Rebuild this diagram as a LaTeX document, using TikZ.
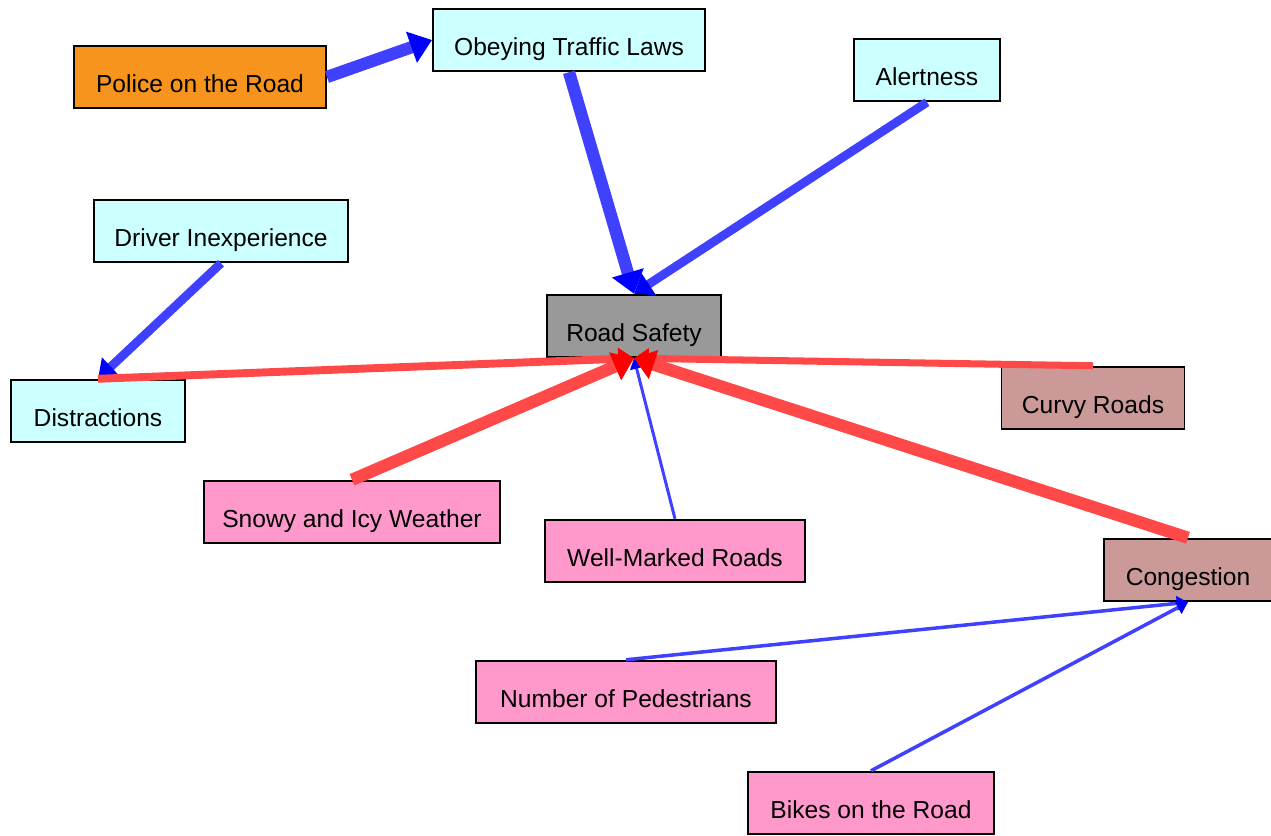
\documentclass[tikz,border=0pt]{standalone}
\usepackage{fontspec}
\setmainfont{Liberation Sans}
\usepackage{xcolor}
\usepackage{tikz}
\usetikzlibrary{arrows.meta,positioning}

\definecolor{lineblue}{RGB}{64,64,255}
\definecolor{linered}{RGB}{255,72,72}
\definecolor{cyanfill}{RGB}{204,255,255}
\definecolor{orangefill}{RGB}{247,148,30}
\definecolor{grayfill}{RGB}{153,153,153}
\definecolor{brownfill}{RGB}{204,153,153}
\definecolor{pinkfill}{RGB}{255,153,204}

\begin{document}
\begin{tikzpicture}[
    box/.style={rectangle, draw=black, line width=1.1pt, minimum height=1.25cm, inner sep=2pt, text height=18pt, text depth=0pt, font=\fontsize{14}{16}\selectfont},
    factor/.style={box, fill=cyanfill},
    police/.style={box, fill=orangefill},
    target/.style={box, fill=grayfill},
    hazard/.style={box, fill=brownfill},
    cond/.style={box, fill=pinkfill},
    pos/.style={draw=lineblue, line width=#1, -{Triangle[color=blue, length=4pt 1.2, width=4pt 2]}},
    neg/.style={draw=linered, line width=#1, -{Triangle[color=red, length=4pt 1.1, width=4pt 1.8]}}
]
\useasboundingbox (0,0) rectangle (25.42,16.70);

% Central node
\node[target, minimum width=3.48cm] (safety) at (12.68, 10.18) {Road Safety};

% Upper factors
\node[police, minimum width=5.04cm] (police) at (4.00, 15.16) {Police on the Road};
\node[factor, minimum width=5.44cm] (laws) at (11.38, 15.90) {Obeying Traffic Laws};
\node[factor, minimum width=2.92cm] (alert) at (18.54, 15.30) {Alertness};
\node[factor, minimum width=5.08cm] (driver) at (4.42, 12.08) {Driver Inexperience};
\node[factor, minimum width=3.48cm] (distract) at (1.96, 8.48) {Distractions};

% Road conditions
\node[hazard, minimum width=3.66cm] (curvy) at (21.86, 8.74) {Curvy Roads};
\node[cond, minimum width=5.92cm] (snowy) at (7.04, 6.46) {Snowy and Icy Weather};
\node[cond, minimum width=5.20cm] (marked) at (13.50, 5.68) {Well-Marked Roads};
\node[hazard, minimum width=3.36cm] (congest) at (23.76, 5.30) {Congestion};
\node[cond, minimum width=6.00cm] (peds) at (12.52, 2.86) {Number of Pedestrians};
\node[cond, minimum width=4.92cm] (bikes) at (17.42, 0.64) {Bikes on the Road};

% Positive links
\draw[pos=7pt] (police.east) -- (laws.west);
\draw[pos=7pt] (laws.south) -- (safety.north);
\draw[pos=5pt] (alert.south) -- (safety.north);
\draw[pos=5pt] (driver.south) -- (distract.north);
\draw[pos=1.7pt] (marked.north) -- (safety.south);
\draw[pos=2pt] (peds.north) -- (congest.south);
\draw[pos=2pt] (bikes.north) -- (congest.south);

% Negative links
\draw[neg=4.5pt] (distract.north) -- (safety.south);
\draw[neg=4pt] (curvy.north) -- (safety.south);
\draw[neg=7pt] (snowy.north) -- (safety.south);
\draw[neg=7pt] (congest.north) -- (safety.south);

\end{tikzpicture}
\end{document}
